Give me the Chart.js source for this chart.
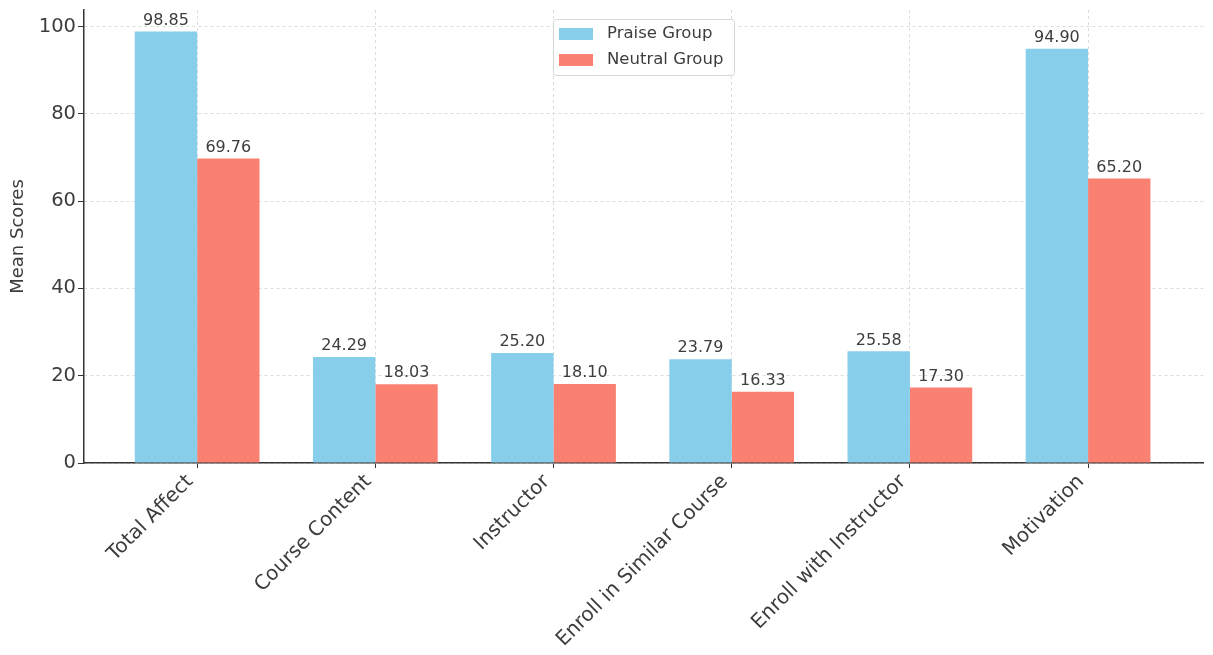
<!DOCTYPE html>
<html>
<head>
<meta charset="utf-8">
<script src="https://cdn.jsdelivr.net/npm/chart.js@4"></script>
<style>
  html, body { margin: 0; padding: 0; background: #fff; }
  #wrap { width: 1213px; height: 655px; }
</style>
</head>
<body>
<div id="wrap"><canvas id="chart" width="1213" height="655"></canvas></div>
<script>
// Data
const categories = ["Total Affect", "Course Content", "Instructor", "Enroll in Similar Course", "Enroll with Instructor", "Motivation"];
const praiseScores = [98.85, 24.29, 25.20, 23.79, 25.58, 94.90];
const neutralScores = [69.76, 18.03, 18.10, 16.33, 17.30, 65.20];
const yTicks = [0, 20, 40, 60, 80, 100];

const textColor = "#3d3d3d";
const font = "'DejaVu Sans', sans-serif";

// Value labels above every bar
const barLabels = {
    id: "barLabels",
    afterDatasetsDraw(chart) {
        const ctx = chart.ctx;
        ctx.save();
        ctx.font = "16px " + font;
        ctx.fillStyle = textColor;
        ctx.textAlign = "center";
        ctx.textBaseline = "bottom";
        chart.data.datasets.forEach((ds, i) => {
            chart.getDatasetMeta(i).data.forEach((bar, j) => {
                ctx.fillText(ds.data[j].y.toFixed(2), bar.x, bar.y - 3);
            });
        });
        ctx.restore();
    }
};

// Matplotlib-like legend box at upper center of the plot area
const boxLegend = {
    id: "boxLegend",
    afterDraw(chart) {
        const ctx = chart.ctx;
        const area = chart.chartArea;
        const w = 181, h = 56;
        const x = (area.left + area.right) / 2 - w / 2;
        const y = area.top + 9;
        ctx.save();
        ctx.fillStyle = "rgba(255,255,255,0.85)";
        ctx.strokeStyle = "#d6d6d6";
        ctx.lineWidth = 1;
        ctx.beginPath();
        ctx.roundRect(x + 0.5, y + 0.5, w, h, 3);
        ctx.fill();
        ctx.stroke();
        ctx.font = "16.5px " + font;
        ctx.textBaseline = "middle";
        chart.data.datasets.forEach((ds, i) => {
            const rowY = y + 15 + i * 26;
            ctx.fillStyle = ds.backgroundColor;
            ctx.fillRect(x + 6, rowY - 6, 34, 12);
            ctx.fillStyle = textColor;
            ctx.fillText(ds.label, x + 54, rowY);
        });
        ctx.restore();
    }
};

new Chart(document.getElementById("chart"), {
    type: "bar",
    data: {
        datasets: [
            {
                label: "Praise Group",
                data: praiseScores.map((v, i) => ({ x: i, y: v })),
                backgroundColor: "#87CEEB"
            },
            {
                label: "Neutral Group",
                data: neutralScores.map((v, i) => ({ x: i, y: v })),
                backgroundColor: "#FA8072"
            }
        ]
    },
    options: {
        responsive: false,
        animation: false,
        layout: { padding: { top: 10, right: 10, left: 0, bottom: 0 } },
        datasets: {
            bar: { categoryPercentage: 0.7, barPercentage: 1.0 }
        },
        plugins: {
            legend: { display: false },
            tooltip: { enabled: false }
        },
        scales: {
            x: {
                type: "linear",
                offset: false,
                min: -0.635,
                max: 5.645,
                afterBuildTicks: axis => {
                    axis.ticks = categories.map((c, i) => ({ value: i }));
                },
                afterFit: axis => { axis.height = 192; },
                ticks: {
                    autoSkip: false,
                    minRotation: 45,
                    maxRotation: 45,
                    padding: 2,
                    labelOffset: -7,
                    color: textColor,
                    font: { family: font, size: 20 },
                    callback: v => categories[v]
                },
                grid: {
                    offset: false,
                    color: "#dcdcdc",
                    tickColor: "#333",
                    tickLength: 5,
                    tickBorderDash: []
                },
                border: { color: "#333", width: 1.5, dash: [3, 3] }
            },
            y: {
                min: 0,
                max: 103.8,
                afterBuildTicks: axis => {
                    axis.ticks = yTicks.map(v => ({ value: v }));
                },
                afterFit: axis => {
                    axis.width = 84;
                    axis.paddingTop = 0;
                    axis.paddingBottom = 0;
                },
                ticks: {
                    includeBounds: false,
                    padding: 2,
                    color: textColor,
                    font: { family: font, size: 19.5 }
                },
                title: {
                    display: true,
                    text: "Mean Scores",
                    color: textColor,
                    font: { family: font, size: 18 },
                    padding: { top: 8, bottom: 4 }
                },
                grid: {
                    color: "#dcdcdc",
                    tickColor: "#333",
                    tickLength: 6,
                    tickBorderDash: []
                },
                border: { color: "#333", width: 1.5, dash: [3, 3] }
            }
        }
    },
    plugins: [barLabels, boxLegend]
});
</script>
</body>
</html>
